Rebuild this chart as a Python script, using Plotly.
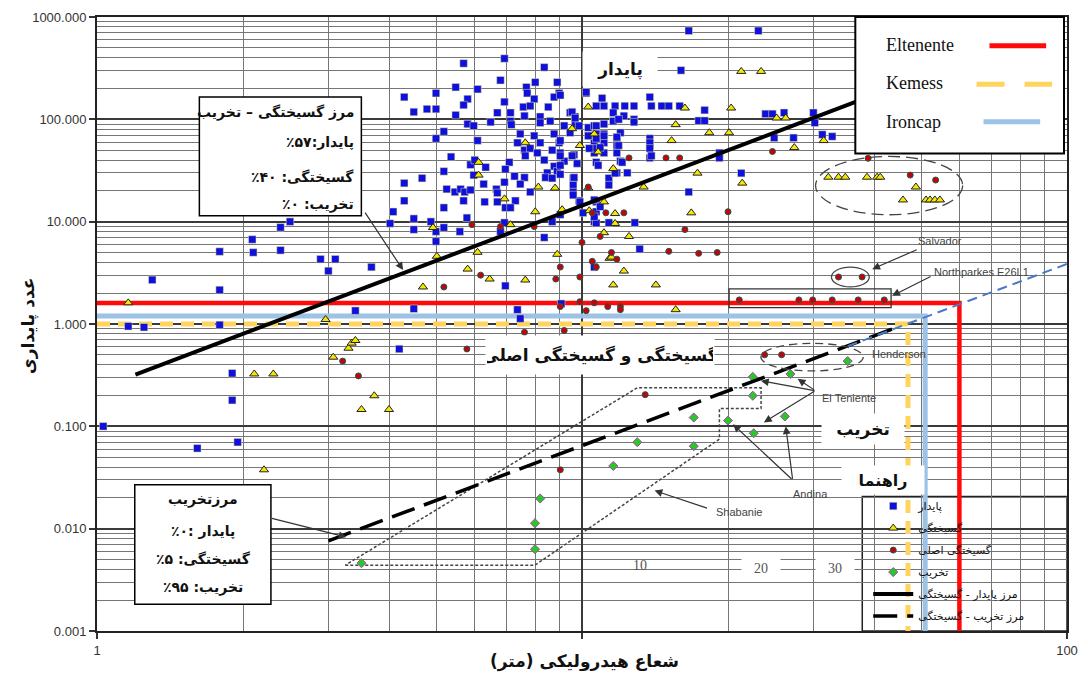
import plotly.graph_objects as go

# ---------------- data: hydraulic radius (m) vs stability number ----------------
stable_x = [1.03, 1.16, 1.25, 1.30, 1.61, 1.95, 1.79, 1.79, 1.79, 2.10,
            2.39, 1.90, 1.90, 2.09, 2.39, 2.50, 2.89, 3.10, 3.00, 3.68,
            4.20, 4.50, 6.95, 7.36, 10.6, 13.15, 4.02, 4.08, 9.06, 7.46,
            3.41, 6.92, 5.70, 8.36, 6.79, 8.01, 8.89, 5.49, 7.68, 6.09,
            4.30, 5.00, 7.71, 8.97, 8.76, 10.2, 5.81, 6.92, 7.97, 5.70,
            4.50, 4.79, 5.00, 7.57, 7.82, 8.52, 5.49, 6.69, 7.12, 7.61,
            8.20, 9.45, 9.68, 5.81, 5.98, 6.48, 7.12, 7.15, 8.20, 8.60,
            9.19, 9.68, 10.3, 10.6, 5.19, 5.00, 7.46, 7.97, 8.76, 9.45,
            10.4, 6.09, 7.36, 8.20, 8.97, 7.61, 7.82, 8.09, 8.68, 9.02,
            9.63, 10.6, 5.37, 7.64, 8.36, 9.19, 9.77, 5.89, 6.01, 6.33,
            7.08, 6.95, 8.76, 8.89, 5.19, 8.48, 8.41, 8.68, 5.98, 7.26,
            7.61, 9.59, 4.30, 4.68, 6.27, 6.92, 7.46, 9.59, 5.26, 5.47,
            5.62, 5.73, 5.89, 6.66, 6.69, 7.82, 9.59, 4.30, 5.70, 6.30,
            6.69, 7.29, 9.86, 5.19, 6.95, 7.12, 5.79, 9.02, 10.05, 4.50,
            4.88, 4.50, 5.00, 5.19, 5.60, 6.92, 6.79, 8.68, 5.00, 8.36,
            16.6, 16.0, 23.1, 11.0, 10.7, 11.1, 11.7, 12.25, 12.8, 13.8,
            13.9, 14.6, 15.1, 15.9, 17.9, 17.4, 17.9, 11.6, 12.2, 12.8,
            10.7, 11.1, 11.6, 10.7, 11.1, 12.0, 11.8, 13.8, 13.8, 13.8,
            10.6, 11.1, 10.6, 11.1, 11.8, 11.8, 10.7, 12.0, 11.8, 11.36,
            11.36, 16.6, 12.85, 10.7, 10.7, 10.6, 10.7, 10.2, 9.02, 9.54,
            9.68, 9.86, 11.9, 12.8, 9.02, 10.3, 10.7, 11.1, 11.8, 11.9,
            13.8, 13.8, 13.9, 10.35, 10.9, 9.02, 9.54, 10.8, 12.1, 9.02,
            9.02, 9.63, 9.59, 9.90, 11.7, 12.4, 19.2, 19.2, 21.3, 24.9,
            27.3, 10.6, 10.9, 10.6, 11.36, 23.9, 24.7, 26.1, 30.0, 30.2,
            31.3, 32.8]
stable_y = [0.10, 0.95, 0.93, 2.7, 0.061, 0.070, 0.98, 2.15, 5.1, 5.0,
            5.25, 0.33, 0.18, 6.7, 8.8, 10.0, 4.3, 4.3, 3.3, 3.6,
            0.57, 1.41, 2.36, 1.38, 3.6, 5.4, 9.6, 12.5, 1.58, 1.13,
            1.35, 393, 352, 322, 241, 230, 230, 206, 206, 197,
            165, 180, 180, 180, 165, 180, 158, 148, 158, 138,
            118, 126, 126, 132, 135, 132, 110, 116, 116, 108,
            106, 116, 106, 90, 86.5, 94, 96, 88.7, 92.5, 96,
            86.5, 90, 83, 86.5, 76, 65, 72, 69, 72, 74,
            69, 62, 59, 59, 59, 50, 52, 47, 50, 47,
            45, 47, 43, 44, 40, 39, 37, 36, 40, 34,
            38, 32.5, 34.7, 31, 31, 30, 27, 26.6, 28.5, 27.8,
            27, 26.6, 23.8, 26.6, 23.3, 24.3, 23.3, 22.8, 20.8, 19.5,
            20.8, 19.5, 20.4, 20.8, 19.1, 19.5, 19.5, 16.0, 16.0, 15.6,
            15.6, 16.0, 16.0, 13.7, 13.7, 13.7, 10.9, 11.7, 12.2, 10.7,
            10.0, 8.37, 8.0, 8.76, 8.0, 9.78, 8.0, 10.0, 6.41, 7.0,
            733, 301, 733, 161, 135, 135, 135, 135, 135, 165,
            135, 135, 135, 135, 123, 97, 97, 116, 108, 100,
            86.5, 90, 96, 72, 72, 74, 65, 65, 55.5, 42,
            59, 59, 52, 47, 55.5, 47, 38, 39, 30, 26.6,
            22.8, 19.5, 9.78, 15.6, 12.5, 10.0, 9.7, 184, 172, 118,
            103, 86.5, 100, 94, 62, 69, 65, 69, 67, 55.5,
            59, 52, 44, 52, 53, 44, 44, 35.5, 38, 35.5,
            29, 27, 18.2, 15.6, 29.8, 30, 47, 42, 29.8, 66,
            66, 16.3, 14, 11.2, 9.78, 113, 113, 116, 116, 92.5,
            71, 68]

failure_x = [10.3, 9.54, 9.90, 7.64, 6.12, 6.12, 8.13, 8.80, 6.92, 8.01,
             9.10, 7.12, 4.93, 10.6, 10.8, 11.6, 13.4, 15.3, 16.3, 18.3,
             17.3, 16.8, 11.1, 11.7, 11.7, 11.1, 12.5, 10.3, 20.3, 15.6,
             20.1, 21.4, 10.35, 11.4, 12.2, 25.2, 26.3, 27.4, 21.3, 23.4,
             31.5, 32.2, 33.8, 34.9, 38.7, 40.6, 41.2, 48.8, 45.9, 51.2,
             52.2, 53.4, 54.7, 1.16, 2.11, 2.31, 3.07, 3.30, 3.35, 3.41,
             2.96, 2.21, 3.73, 3.51, 4.00, 5.02, 6.09, 5.81, 6.45, 4.70,
             7.64, 8.89, 11.5, 11.6, 14.2, 15.6]
failure_y = [132, 81, 55.5, 59, 38, 28.5, 21.8, 21.3, 16.7, 12.5,
             13.1, 9.35, 8.76, 72, 48, 33, 21.8, 62, 129, 74,
             29.8, 12.2, 15.6, 12.0, 9.6, 7.8, 7.17, 21.3, 129, 88.7,
             74, 23.8, 12.8, 4.39, 3.29, 103, 103, 53, 294, 294,
             62, 27.2, 27.2, 27.2, 27.2, 27.2, 27.2, 21.8, 16.3, 16.3,
             16.3, 16.3, 16.3, 1.61, 0.325, 0.325, 0.474, 0.58, 0.65, 0.69,
             1.105, 0.0376, 0.199, 0.146, 0.146, 4.59, 5.02, 3.44, 2.75, 2.30,
             2.69, 4.8, 4.5, 2.41, 2.41, 1.38]

major_x = [5.93, 6.79, 7.97, 10.3, 10.5, 10.0, 10.9, 11.2, 12.2, 12.5,
           14.9, 15.9, 16.3, 24.7, 20.0, 15.1, 17.4, 19.0, 11.5, 11.8,
           10.5, 10.7, 9.02, 9.90, 38.9, 47.5, 53.6, 8.83, 6.18, 5.19,
           9.02, 9.90, 10.6, 11.3, 12.0, 12.0, 10.2, 7.61, 9.19, 5.79,
           3.21, 3.46, 13.5, 9.02, 33.8, 37.8, 21.1, 28.0, 29.9, 32.8,
           37.1, 42.0, 23.8, 25.8]
major_y = [9.35, 8.95, 8.95, 21.8, 12.2, 6.27, 7.17, 12.2, 12.2, 42,
           42, 42, 8.37, 48.5, 12.5, 5.13, 4.9, 5.0, 5.0, 4.3,
           4.1, 3.6, 3.6, 2.88, 41.6, 28.5, 25.5, 2.75, 3.0, 2.30,
           1.48, 1.65, 1.61, 1.48, 1.48, 1.38, 1.35, 0.83, 0.865, 0.57,
           0.434, 0.311, 0.204, 0.0376, 2.88, 2.88, 1.72, 1.72, 1.72, 1.72,
           1.72, 1.72, 0.50, 0.50]

caving_x = [35.3, 22.5, 26.9, 22.5, 20.0, 22.6, 26.2, 17.0, 13.0, 17.0,
            11.6, 8.2, 8.0, 8.0, 3.51]
caving_y = [0.434, 0.304, 0.325, 0.199, 0.114, 0.0856, 0.125, 0.122, 0.070, 0.064,
            0.041, 0.0197, 0.0113, 0.0063, 0.0046]

# boundary lines
stable_bound_x = [1.2, 40]
stable_bound_y = [0.32, 173]
caving_bound_x = [3.0, 44]
caving_bound_y = [0.0076, 0.905]
caving_ext_x = [35.3, 100]
caving_ext_y = [0.607, 3.86]

# design limits of three mines
eltenente_x = [1, 60, 60]
eltenente_y = [1.6, 1.6, 0.001]
kemess_x = [1, 47, 47]
kemess_y = [1.0, 1.0, 0.001]
ironcap_x = [1, 51, 51]
ironcap_y = [1.2, 1.2, 0.001]

# Shabanie / El Teniente outline
shabanie_x = [3.25, 8.0, 19.2, 19.2, 23.4, 23.4, 13.0, 3.25]
shabanie_y = [0.0044, 0.0044, 0.075, 0.149, 0.149, 0.238, 0.238, 0.0044]

y_ticks = [0.001, 0.01, 0.1, 1, 10, 100, 1000]
y_ticktext = ['0.001', '0.010', '0.100', '1.000', '10.000', '100.000', '1000.000']
x_ticks = [1, 10, 100]
x_ticktext = ['1', '', '100']

# ---------------- page geometry ----------------
W, H = 1088, 675
ML, MR, MT, MB = 97, 15, 10, 44
PW, PH = W - ML - MR, H - MT - MB
FA = 'DejaVu Sans'


def rtl(s):
    """Wrap a Persian string in a right-to-left embedding."""
    return '\u202b' + s + '\u202c'


def pp(px, py):
    """Page pixel position -> paper fraction of the plotting area."""
    return (px - ML) / PW, (H - MB - py) / PH


fig = go.Figure()

# limit lines (below the points)
fig.add_trace(go.Scatter(x=eltenente_x, y=eltenente_y, mode='lines', showlegend=False,
                         line=dict(color='#ff0a0a', width=4.5), hoverinfo='skip'))
fig.add_trace(go.Scatter(x=ironcap_x, y=ironcap_y, mode='lines', showlegend=False,
                         line=dict(color='#9cc2e5', width=5), hoverinfo='skip'))
fig.add_trace(go.Scatter(x=kemess_x, y=kemess_y, mode='lines', showlegend=False,
                         line=dict(color='#ffd45e', width=5, dash='13px,8px'), hoverinfo='skip'))
fig.add_trace(go.Scatter(x=shabanie_x, y=shabanie_y, mode='lines', showlegend=False,
                         line=dict(color='#444444', width=1.5, dash='3px,2px'), hoverinfo='skip'))

# case histories
fig.add_trace(go.Scatter(x=stable_x, y=stable_y, mode='markers', name=rtl('پایدار'), legendgroup='a',
                         marker=dict(symbol='square', size=7.5, color='#1010dc',
                                     line=dict(color='#e8e890', width=0.5))))
fig.add_trace(go.Scatter(x=failure_x, y=failure_y, mode='markers', name=rtl('گسیختگی'), legendgroup='b',
                         marker=dict(symbol='triangle-up', size=8, color='#f4e800',
                                     line=dict(color='#222222', width=1))))
fig.add_trace(go.Scatter(x=major_x, y=major_y, mode='markers', name=rtl('گسیختگی اصلی'), legendgroup='c',
                         marker=dict(symbol='circle', size=6, color='#cc0000',
                                     line=dict(color='#1c5a5a', width=1))))
fig.add_trace(go.Scatter(x=caving_x, y=caving_y, mode='markers', name=rtl('تخریب'), legendgroup='d',
                         marker=dict(symbol='diamond', size=7, color='#22cc22',
                                     line=dict(color='#b040b0', width=1))))

# zone boundaries
fig.add_trace(go.Scatter(x=stable_bound_x, y=stable_bound_y, mode='lines',
                         name=rtl('مرز پایدار - گسیختگی'), legendgroup='e',
                         line=dict(color='black', width=4)))
fig.add_trace(go.Scatter(x=caving_bound_x, y=caving_bound_y, mode='lines',
                         name=rtl('مرز تخریب - گسیختگی'), legendgroup='f',
                         line=dict(color='black', width=3.5, dash='24px,10px')))
fig.add_trace(go.Scatter(x=caving_ext_x, y=caving_ext_y, mode='lines', showlegend=False,
                         line=dict(color='#4a78c8', width=2, dash='10px,6px'), hoverinfo='skip'))

# ---------------- shapes ----------------
shapes = []


def rect(x0, y0, x1, y1, layer='above', fill='white', lc='black', lw=1.5, dash='solid'):
    a = pp(x0, y1)
    b = pp(x1, y0)
    shapes.append(dict(type='rect', xref='paper', yref='paper', x0=a[0], y0=a[1], x1=b[0], y1=b[1],
                       fillcolor=fill, layer=layer, line=dict(color=lc, width=lw, dash=dash)))


def oval(x0, y0, x1, y1, lc='#444', lw=1.3, dash='solid'):
    a = pp(x0, y1)
    b = pp(x1, y0)
    shapes.append(dict(type='circle', xref='paper', yref='paper', x0=a[0], y0=a[1], x1=b[0], y1=b[1],
                       fillcolor='rgba(0,0,0,0)', layer='above', line=dict(color=lc, width=lw, dash=dash)))


def seg(x0, y0, x1, y1, color, width, dash='solid'):
    a = pp(x0, y0)
    b = pp(x1, y1)
    shapes.append(dict(type='line', xref='paper', yref='paper', x0=a[0], y0=a[1], x1=b[0], y1=b[1],
                       layer='above', line=dict(color=color, width=width, dash=dash)))


# white patches that hide the grid behind labels
rect(613, 547, 690, 628, layer='between', lc='rgba(0,0,0,0)', lw=0)
# bottom-right legend frame
rect(867, 495, 1073, 631, layer='between', lc='#222', lw=1.5)
# text boxes
rect(200, 91, 363, 211)
rect(135, 483, 272, 604)
# top-right key
rect(860, 10, 1070, 148, lw=2)
seg(995, 39, 1052, 39, '#ff0a0a', 5)
seg(982, 78, 1058, 78, '#ffd45e', 5, dash='28px,20px')
seg(989, 116, 1046, 116, '#9cc2e5', 5)
# case outlines
oval(820, 151, 968, 210, dash='12px,6px')
oval(836, 263, 874, 283)
oval(765, 340, 868, 368, dash='8px,5px')
rect(733, 285, 896, 304, fill='rgba(0,0,0,0)', lc='#333', lw=1.3)

# ---------------- annotations ----------------
ann = []


def text(px, py, s, size=12, family=FA, color='#111', xanchor='center', bold=False,
         bg=None, w=None, h=None, angle=0, persian=True):
    x, y = pp(px, py)
    if persian:
        s = rtl(s)
    d = dict(x=x, y=y, xref='paper', yref='paper', showarrow=False, xanchor=xanchor,
             yanchor='middle', text=('<b>%s</b>' % s) if bold else s, textangle=angle,
             font=dict(family=family, size=size, color=color))
    if bg:
        d.update(bgcolor=bg, width=w, height=h)
    ann.append(d)


def arrow(hx, hy, tx, ty):
    x, y = pp(hx, hy)
    ann.append(dict(x=x, y=y, xref='paper', yref='paper', ax=tx - hx, ay=ty - hy,
                    axref='pixel', ayref='pixel', text='', showarrow=True, arrowhead=2,
                    arrowsize=1.3, arrowwidth=1.2, arrowcolor='#333', standoff=0))


# top-left box
text(358, 107, 'مرز گسیختگی – تخریب', size=14, xanchor='right', bold=True)
text(358, 137, 'پایدار:۵۷٪', size=14, xanchor='right', bold=True)
text(358, 172, 'گسیختگی: ۴۰٪', size=14, xanchor='right', bold=True)
text(358, 200, 'تخریب: ۰٪', size=14, xanchor='right', bold=True)
arrow(405, 266, 366, 207)

# bottom-left box
text(204, 498, 'مرزتخریب', size=14, bold=True)
text(204, 530, 'پایدار :۰٪', size=14, bold=True)
text(204, 558, 'گسیختگی: ۵٪', size=14, bold=True)
text(204, 587, 'تخریب: ۹۵٪', size=14, bold=True)
arrow(348, 536, 272, 517)

# zone labels
text(623, 63, 'پایدار', size=17, bold=True, bg='white', w=72, h=32)
text(603, 352, 'گسیختگی و گسیختگی اصلی', size=17, bold=True, bg='white', w=226, h=36)
text(868, 427, 'تخریب', size=17, bold=True, bg='white', w=80, h=28)
text(888, 478, 'راهنما', size=16, bold=True, bg='white', w=80, h=26)

# key of the top-right box
serif = 'Liberation Serif'
text(889, 38, 'Eltenente', size=18, family=serif, xanchor='left', persian=False)
text(889, 77, 'Kemess', size=18, family=serif, xanchor='left', persian=False)
text(889, 116, 'Ironcap', size=18, family=serif, xanchor='left', persian=False)

# scale labels inside the plot
text(643, 565, '10', size=14, family=serif, color='#555', persian=False)
text(765, 567, '20', size=14, family=serif, color='#555', bg='white', w=36, h=22, persian=False)
text(840, 567, '30', size=14, family=serif, color='#555', bg='white', w=36, h=22, persian=False)

# mine case labels
small = 'Liberation Sans'
text(945, 237, 'Salvador', size=11, family=small, color='#444', persian=False)
arrow(877, 265, 923, 245)
text(937, 268, 'Northparkes E26L1', size=11, family=small, color='#444', xanchor='left', persian=False)
arrow(897, 292, 937, 272)
text(875, 351, 'Henderson', size=11, family=small, color='#444', xanchor='left', persian=False)
text(824, 395, 'El Teniente', size=11, family=small, color='#444', xanchor='left', persian=False)
arrow(765, 378, 820, 388)
arrow(802, 376, 820, 388)
arrow(768, 420, 820, 388)
text(815, 492, 'Andina', size=11, family=small, color='#444', persian=False)
arrow(737, 422, 797, 478)
arrow(790, 424, 797, 478)
text(743, 511, 'Shabanie', size=11, family=small, color='#444', persian=False)
arrow(658, 489, 712, 507)

# axis titles
text(588, 662, 'شعاع هیدرولیکی (متر)', size=17, bold=True)
text(28, 322, 'عدد پایداری', size=17, bold=True, angle=-90)

lx, ly = pp(873, 490)

fig.update_layout(
    width=W, height=H,
    margin=dict(l=ML, r=MR, t=MT, b=MB, pad=0),
    plot_bgcolor='white', paper_bgcolor='white',
    shapes=shapes, annotations=ann,
    showlegend=True,
    legend=dict(x=lx, y=ly, xanchor='left', yanchor='top', bgcolor='rgba(0,0,0,0)',
                borderwidth=0, tracegroupgap=3, itemwidth=40,
                font=dict(family=FA, size=11, color='#111')),
)

axis_common = dict(
    type='log', showline=True, linecolor='#222', linewidth=2, mirror=True,
    showgrid=True, gridcolor='#3a3a3a', gridwidth=2, zeroline=False,
    ticks='outside', ticklen=6, tickcolor='#333', tickwidth=1.5,
    tickfont=dict(family='Liberation Sans, Arial', size=13, color='#333'),
    minor=dict(dtick='D1', showgrid=True, gridcolor='#767676', gridwidth=1.3, ticks=''),
)
fig.update_xaxes(range=[0, 2], tickmode='array', tickvals=x_ticks, ticktext=x_ticktext, **axis_common)
fig.update_yaxes(range=[-3, 3], tickmode='array', tickvals=y_ticks, ticktext=y_ticktext, **axis_common)

fig.write_html('out.html')
